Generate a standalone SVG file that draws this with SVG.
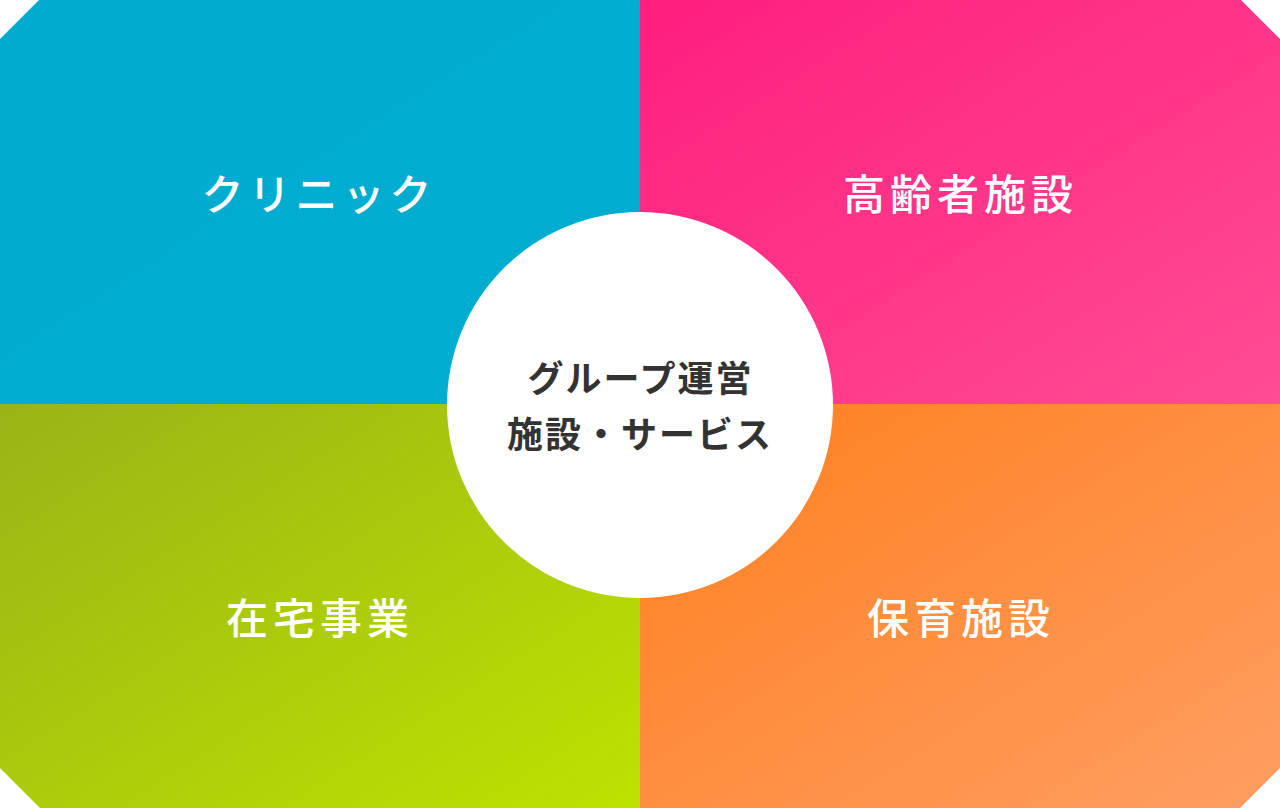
<svg xmlns="http://www.w3.org/2000/svg" width="1280" height="808" viewBox="0 0 1280 808">
<defs>
<linearGradient id="gBlue" x1="0" y1="0" x2="1" y2="1"><stop offset="0" stop-color="#00abcf"/><stop offset="1" stop-color="#00adcf"/></linearGradient>
<linearGradient id="gPink" x1="0" y1="0" x2="1" y2="1"><stop offset="0" stop-color="#ff1e7d"/><stop offset="1" stop-color="#ff4c94"/></linearGradient>
<linearGradient id="gGreen" x1="0" y1="0" x2="1" y2="1"><stop offset="0" stop-color="#9ab317"/><stop offset="1" stop-color="#bee200"/></linearGradient>
<linearGradient id="gOrange" x1="0" y1="0" x2="1" y2="1"><stop offset="0" stop-color="#ff7f1e"/><stop offset="1" stop-color="#ff9e62"/></linearGradient>
<style>
.lbl{font-family:"Noto Sans CJK JP","Noto Sans",sans-serif;font-size:42px;font-weight:500;fill:#fff;letter-spacing:5px;text-anchor:middle}
.ctr{font-family:"Noto Sans CJK JP","Noto Sans",sans-serif;font-size:36px;font-weight:700;fill:#333;letter-spacing:2px;text-anchor:middle}
</style>
</defs>
<rect width="1280" height="808" fill="#fff"/>
<g id="clinic">
<polygon points="39,0 640,0 640,404 0,404 0,39" fill="url(#gBlue)"/>
<text class="lbl" x="319" y="210">クリニック</text>
</g>
<g id="elderly">
<polygon points="640,0 1241,0 1280,39 1280,404 640,404" fill="url(#gPink)"/>
<text class="lbl" x="960.5" y="210">高齢者施設</text>
</g>
<g id="homecare">
<polygon points="0,404 640,404 640,808 40,808 0,768" fill="url(#gGreen)"/>
<text class="lbl" x="320" y="634">在宅事業</text>
</g>
<g id="childcare">
<polygon points="640,404 1280,404 1280,768 1240,808 640,808" fill="url(#gOrange)"/>
<text class="lbl" x="961" y="634">保育施設</text>
</g>
<g id="center">
<circle cx="640" cy="405" r="193" fill="#fff"/>
<text class="ctr" x="640.5" y="392">グループ運営</text>
<text class="ctr" x="640" y="448">施設・サービス</text>
</g>
<g id="connectors"/>
</svg>
